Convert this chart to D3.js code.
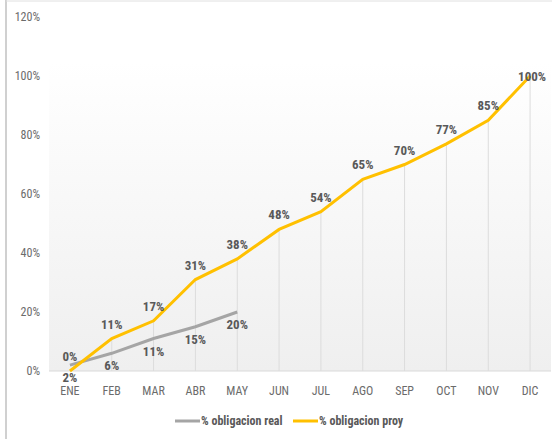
<html>
<head>
<script src="https://d3js.org/d3.v7.min.js"></script>
<style>
  body { margin: 0; background: #fff; }
  text { font-family: "Roboto Condensed", "DejaVu Sans Condensed", Roboto, sans-serif; }
</style>
</head>
<body>
<div id="chart"></div>
<script>
const months = ["ENE","FEB","MAR","ABR","MAY","JUN","JUL","AGO","SEP","OCT","NOV","DIC"];
const proy = [0, 11, 17, 31, 38, 48, 54, 65, 70, 77, 85, 100];
const real = [2, 6, 11, 15, 20];
const yTicks = [0, 20, 40, 60, 80, 100, 120];
const seriesNames = ["% obligacion real", "% obligacion proy"];

const W = 552, H = 439;
const margin = {top: 17, right: 1, bottom: 68, left: 49};
const width = W - margin.left - margin.right,
      height = H - margin.top - margin.bottom;

const svg = d3.select("#chart").append("svg")
    .attr("width", W).attr("height", H);

// outer frame
svg.append("line").attr("x1", 6).attr("x2", 6).attr("y1", 0).attr("y2", H)
    .attr("stroke", "#d0d0d0").attr("stroke-width", 2);
svg.append("line").attr("x1", 6).attr("x2", W).attr("y1", 1).attr("y2", 1)
    .attr("stroke", "#e0e0e0").attr("stroke-width", 1);

const defs = svg.append("defs");
const grad = defs.append("linearGradient").attr("id", "bg")
    .attr("x1", 0).attr("x2", 0).attr("y1", 0).attr("y2", 1);
grad.append("stop").attr("offset", "0%").attr("stop-color", "#ffffff");
grad.append("stop").attr("offset", "100%").attr("stop-color", "#efefef");

const g = svg.append("g")
    .attr("transform", "translate(" + margin.left + "," + margin.top + ")");

const x = d3.scaleBand().domain(months).range([0, width]);
const y = d3.scaleLinear().domain([0, 120]).range([height, 0]);
const cx = d => x(d) + x.bandwidth() / 2;

// plot background
g.append("rect")
    .attr("x", 0).attr("y", y(105))
    .attr("width", width).attr("height", y(0) - y(105))
    .attr("fill", "url(#bg)");

// baseline
g.append("line").attr("x1", 0).attr("x2", width)
    .attr("y1", y(0)).attr("y2", y(0))
    .attr("stroke", "#d9d9d9").attr("stroke-width", 1);

// drop lines
g.selectAll(".drop").data(proy).enter().append("line")
    .attr("x1", (d, i) => cx(months[i])).attr("x2", (d, i) => cx(months[i]))
    .attr("y1", d => y(d)).attr("y2", y(0))
    .attr("stroke", "#dcdcdc").attr("stroke-width", 1);

// y axis labels
g.selectAll(".ytick").data(yTicks).enter().append("text")
    .attr("x", -9).attr("y", d => y(d)).attr("dy", "0.35em")
    .attr("text-anchor", "end").attr("font-size", 12).attr("fill", "#6b6b6b")
    .text(d => d + "%");

// x axis labels
g.selectAll(".xtick").data(months).enter().append("text")
    .attr("x", d => cx(d)).attr("y", height + 24)
    .attr("text-anchor", "middle").attr("font-size", 12).attr("fill", "#6b6b6b")
    .text(d => d);

const line = d3.line()
    .x((d, i) => cx(months[i]))
    .y(d => y(d));

g.append("path").datum(real)
    .attr("d", line).attr("fill", "none")
    .attr("stroke", "#a5a5a5").attr("stroke-width", 3);

g.append("path").datum(proy)
    .attr("d", line).attr("fill", "none")
    .attr("stroke", "#ffc000").attr("stroke-width", 3);

// data labels
g.selectAll(".lp").data(proy).enter().append("text")
    .attr("x", (d, i) => cx(months[i]) + (i === 11 ? 2 : 0))
    .attr("y", (d, i) => i === 11 ? y(d) + 5 : y(d) - 10)
    .attr("text-anchor", "middle").attr("font-size", 13).attr("font-weight", "bold")
    .attr("fill", "#595959")
    .text(d => d + "%");

g.selectAll(".lr").data(real).enter().append("text")
    .attr("x", (d, i) => cx(months[i]))
    .attr("y", d => y(d) + 17)
    .attr("text-anchor", "middle").attr("font-size", 13).attr("font-weight", "bold")
    .attr("fill", "#595959")
    .text(d => d + "%");

// legend
const legend = svg.append("g").attr("transform", "translate(175,421)");
const legColors = ["#a5a5a5", "#ffc000"];
const legX = [0, 118];
seriesNames.forEach((name, i) => {
  legend.append("line").attr("x1", legX[i]).attr("x2", legX[i] + 25)
      .attr("y1", 0).attr("y2", 0)
      .attr("stroke", legColors[i]).attr("stroke-width", 3);
  legend.append("text").attr("x", legX[i] + 26).attr("y", 0).attr("dy", "0.35em")
      .attr("font-size", 12).attr("font-weight", "bold").attr("fill", "#595959")
      .text(name);
});
</script>
</body>
</html>
